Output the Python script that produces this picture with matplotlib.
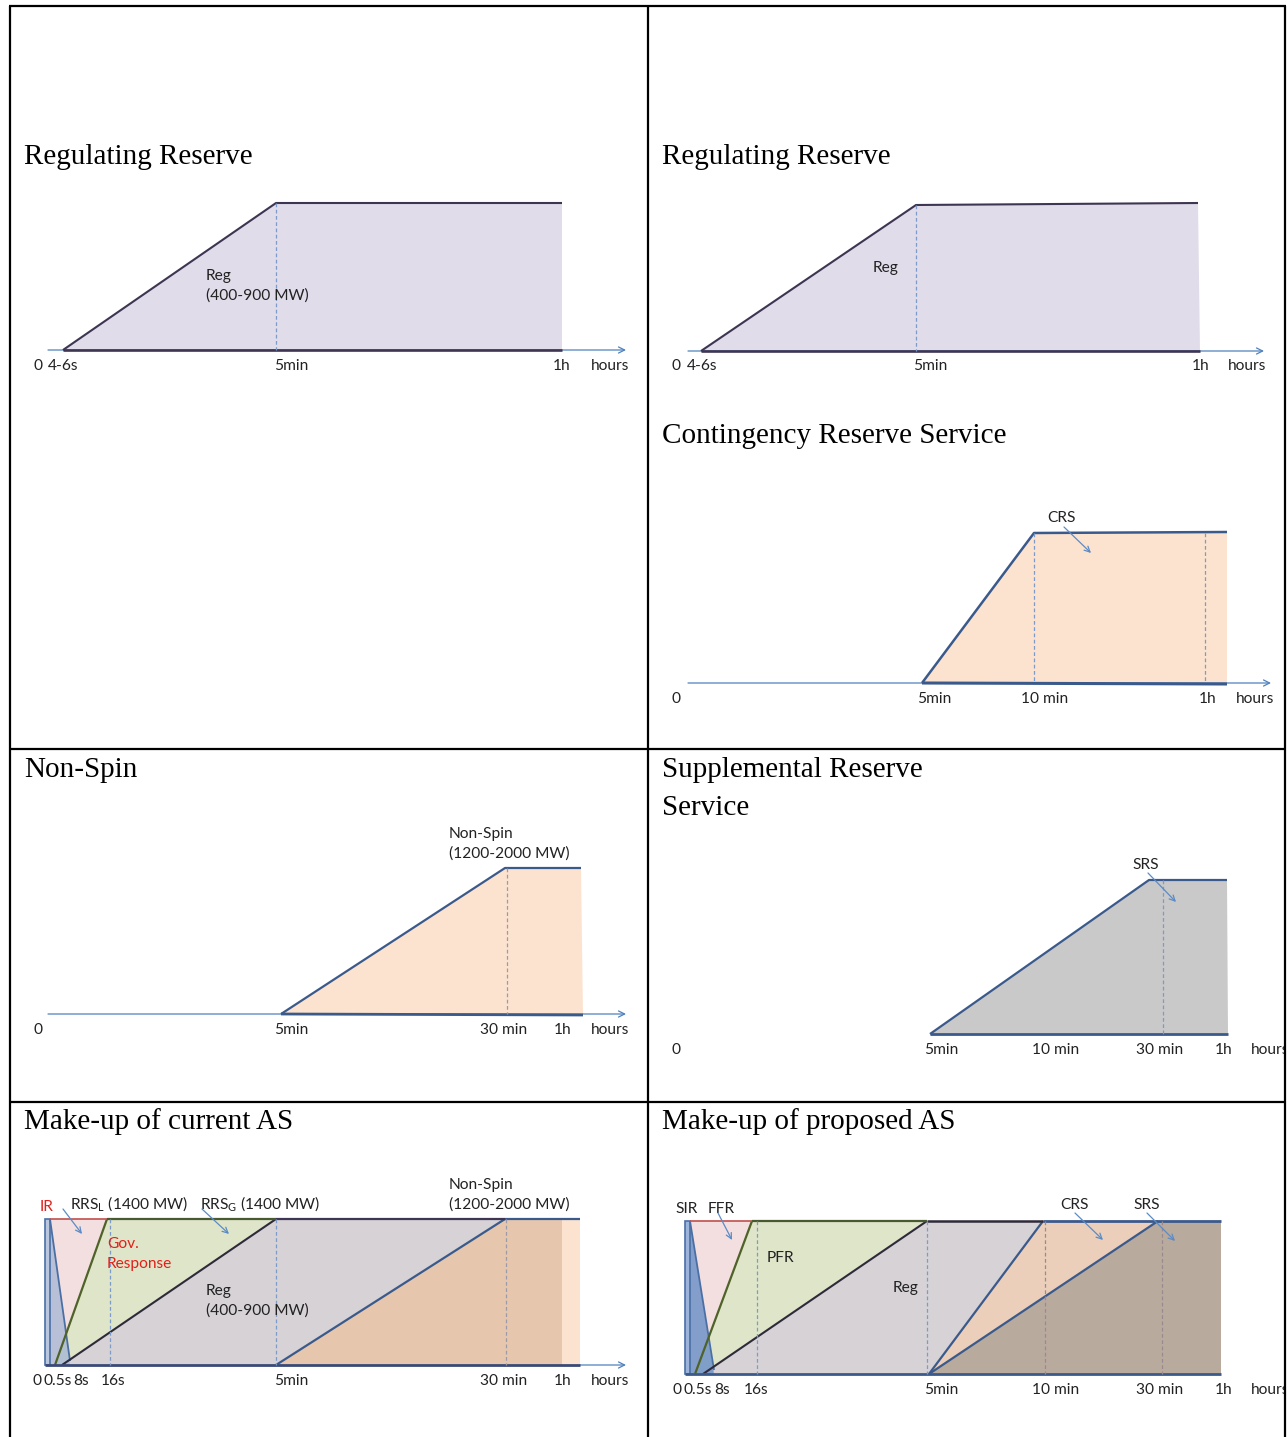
import matplotlib
matplotlib.use("Agg")
import matplotlib.pyplot as plt
from matplotlib.patches import Polygon, Rectangle

# -----------------------------
# Fonts
# -----------------------------
plt.rcParams['mathtext.fontset'] = 'custom'
plt.rcParams['mathtext.rm'] = 'Lato'
SANS = ['Lato', 'DejaVu Sans']
SERIF = ['Liberation Serif', 'DejaVu Serif']
TICK_FS = 11.2
TITLE_FS = 21
TXT_DY = 2

# -----------------------------
# Data (pixel positions read off the reference schematic)
# -----------------------------
# Regulating Reserve, left
reg1_labels = ["0", "4-6s", "5min", "1h", "hours"]
reg1_label_x = [38, 63, 291, 562, 610]
reg1_x = [63, 276, 562, 562]
reg1_y = [350, 203, 203, 350]

# Regulating Reserve, right
reg2_labels = ["0", "4-6s", "5min", "1h", "hours"]
reg2_label_x = [676, 702, 930, 1201, 1247]
reg2_x = [701, 916, 1198, 1200]
reg2_y = [351, 205, 203, 351]

# Contingency Reserve Service
crs_labels = ["0", "5min", "10 min", "1h", "hours"]
crs_label_x = [676, 934, 1045, 1208, 1255]
crs_x = [922, 1034, 1227, 1227]
crs_y = [683, 533, 532, 684]
crs_dash_x = [1034, 1205]

# Non-Spin
ns_labels = ["0", "5min", "30 min", "1h", "hours"]
ns_label_x = [38, 291, 504, 563, 610]
ns_x = [281, 505, 581, 583]
ns_y = [1014, 868, 868, 1015]
ns_dash_x = [507]

# Supplemental Reserve Service
srs_labels = ["0", "5min", "10 min", "30 min", "1h"]
srs_label_x = [676, 941, 1056, 1160, 1224]
srs_x = [930, 1149, 1227, 1228]
srs_y = [1034, 880, 880, 1034]
srs_dash_x = [1163]

# Make-up of current AS
cur_labels = ["0", "0.5s", "8s", "16s", "5min", "30 min", "1h", "hours"]
cur_label_x = [37, 58, 81, 113, 291, 504, 563, 610]
cur_top, cur_base = 1219, 1365
cur_ir_x = [45, 50, 70]
cur_rrsl_x = [50, 107, 55]
cur_rrsg_x = [55, 107, 276, 62]
cur_reg_x = [62, 276, 505, 276]
cur_ns_x = [276, 505, 562, 580]
cur_dash_x = [110, 276, 506]

# Make-up of proposed AS
pro_labels = ["0", "0.5s", "8s", "16s", "5min", "10 min", "30 min", "1h"]
pro_label_x = [677, 698, 722, 756, 941, 1056, 1160, 1224]
pro_top, pro_base = 1221, 1374
pro_sir_x = [685, 690, 714]
pro_ffr_x = [690, 752, 695]
pro_pfr_x = [695, 752, 927, 703]
pro_reg_x = [703, 927, 1043, 929]
pro_crs_x = [929, 1043, 1158]
pro_srs_x = [929, 1158, 1221]
pro_dash_x = [757, 927, 1045, 1162]

# -----------------------------
# Colours
# -----------------------------
AXIS_C = '#4f81bd'
DARK_BLUE = '#3b5a8c'
DARK_PURPLE = '#3e3552'
OLIVE = '#4f6228'
RED_LINE = '#c0504d'
LAVENDER = '#e1dcea'
PEACH = '#fce3cf'
GREY = '#c9c9c9'
PINK = '#f3dfdf'
GREEN = '#dfe5c9'
REG_GREY = '#d6d2d6'
BROWN = '#e6c7ad'
CRS_C = '#ebcfba'
SRS_C = '#b9aa9e'
BLUE_FILL = '#9fb3d6'

# -----------------------------
# Canvas
# -----------------------------
W, H = 1288, 1437
fig = plt.figure(figsize=(W / 100, H / 100), dpi=100)
ax = fig.add_axes([0, 0, 1, 1])
ax.set_xlim(0, W)
ax.set_ylim(H, 0)
ax.axis('off')


def poly(xs, ys, face, alpha=1.0, z=2):
    ax.add_patch(Polygon(list(zip(xs, ys)), closed=True, facecolor=face,
                         edgecolor='none', alpha=alpha, zorder=z))


def line(xs, ys, color, lw=1.4, ls='-', z=4):
    ax.plot(xs, ys, color=color, lw=lw, ls=ls, zorder=z, solid_capstyle='butt')


def axis_arrow(x0, x1, y):
    ax.annotate("", xy=(x1, y), xytext=(x0, y),
                arrowprops=dict(arrowstyle='->', color=AXIS_C, lw=0.9,
                                mutation_scale=11, shrinkA=0, shrinkB=0),
                zorder=3)


def tick_labels(labels, xs, y):
    for lab, x in zip(labels, xs):
        ax.text(x, y + TXT_DY, lab, ha='center', va='center', fontsize=TICK_FS,
                family=SANS, color='#222222', zorder=6)


def label(x, y, s, color='#222222', ha='left'):
    ax.text(x, y + TXT_DY, s, ha=ha, va='center', fontsize=TICK_FS, family=SANS,
            color=color, zorder=6)


def pointer(x0, y0, x1, y1):
    ax.annotate("", xy=(x1, y1), xytext=(x0, y0),
                arrowprops=dict(arrowstyle='->', color='#5b8bc6', lw=0.9,
                                mutation_scale=10, shrinkA=0, shrinkB=0),
                zorder=7)


def dash(x, y0, y1, color='#7d9bc8'):
    line([x, x], [y0, y1], color, lw=0.9, ls=(0, (3, 2)), z=5)


def title(x, y, s):
    ax.text(x, y + 2, s, ha='left', va='center', fontsize=TITLE_FS, family=SERIF,
            color='black', zorder=6)


def ramp_block(xs, ys, face, edge, lw=1.5):
    poly(xs, ys, face)
    line(xs[:3], ys[:3], edge, lw=lw)
    line([xs[0], xs[3]], [ys[0], ys[3]], edge, lw=lw + 0.4)


# -----------------------------
# Table grid
# -----------------------------
for y in [6, 749, 1102]:
    line([9, 1286], [y, y], 'black', lw=1.6, z=10)
for x in [10, 648, 1285.5]:
    line([x, x], [6, H], 'black', lw=1.6, z=10)
# content in the right column is cut at the table border
ax.add_patch(Rectangle((1286.5, 0), 10, H, facecolor='white', edgecolor='none', zorder=9))

# -----------------------------
# Titles
# -----------------------------
title(24, 155, "Regulating Reserve")
title(662, 155, "Regulating Reserve")
title(662, 434, "Contingency Reserve Service")
title(24, 768, "Non-Spin")
title(662, 768, "Supplemental Reserve")
title(662, 806, "Service")
title(24, 1120, "Make-up of current AS")
title(662, 1120, "Make-up of proposed AS")

# -----------------------------
# Regulating Reserve panels
# -----------------------------
axis_arrow(48, 626, reg1_y[0])
ramp_block(reg1_x, reg1_y, LAVENDER, DARK_PURPLE)
dash(reg1_x[1], reg1_y[1], reg1_y[0])
label(206, 274, "Reg")
label(206, 294, "(400-900 MW)")
tick_labels(reg1_labels, reg1_label_x, 364)

axis_arrow(688, 1264, reg2_y[0])
ramp_block(reg2_x, reg2_y, LAVENDER, DARK_PURPLE)
dash(reg2_x[1], reg2_y[1], reg2_y[0])
label(873, 266, "Reg")
tick_labels(reg2_labels, reg2_label_x, 364)

# -----------------------------
# CRS panel
# -----------------------------
axis_arrow(688, 1271, crs_y[0])
ramp_block(crs_x, crs_y, PEACH, DARK_BLUE, lw=1.8)
for x in crs_dash_x:
    dash(x, crs_y[1], crs_y[0])
label(1062, 516, "CRS", ha='center')
pointer(1064, 527, 1091, 553)
tick_labels(crs_labels, crs_label_x, 697)

# -----------------------------
# Non-Spin panel
# -----------------------------
axis_arrow(48, 626, ns_y[0])
ramp_block(ns_x, ns_y, PEACH, DARK_BLUE, lw=1.6)
for x in ns_dash_x:
    dash(x, ns_y[1], ns_y[0], color='#9a9aa8')
label(449, 832, "Non-Spin")
label(449, 852, "(1200-2000 MW)")
tick_labels(ns_labels, ns_label_x, 1028)

# -----------------------------
# SRS panel
# -----------------------------
axis_arrow(688, 1292, srs_y[0])
ramp_block(srs_x, srs_y, GREY, DARK_BLUE, lw=1.6)
for x in srs_dash_x:
    dash(x, srs_y[1], srs_y[0])
label(1146, 863, "SRS", ha='center')
pointer(1148, 873, 1176, 902)
tick_labels(srs_labels, srs_label_x, 1048)
label(1251, 1048, "hours")

# -----------------------------
# Make-up of current AS
# -----------------------------
t, b = cur_top, cur_base
axis_arrow(580, 626, b)
poly([cur_rrsl_x[0], cur_rrsl_x[1], cur_rrsl_x[2], cur_rrsl_x[0]], [t, t, b, b], PINK)
poly(cur_rrsg_x, [b, t, t, b], GREEN)
poly(cur_reg_x, [b, t, t, b], REG_GREY)
poly([cur_ns_x[0], cur_ns_x[1], cur_ns_x[2], cur_ns_x[2]], [b, t, t, b], BROWN)
poly([cur_ns_x[2], cur_ns_x[3], cur_ns_x[3], cur_ns_x[2]], [t, t, b, b], PEACH)
poly([cur_ir_x[1], cur_ir_x[1], cur_ir_x[2]], [t, b, b], BLUE_FILL, alpha=0.7, z=3)
poly([cur_ir_x[0], cur_ir_x[1], cur_ir_x[1], cur_ir_x[0]], [t, t, b, b], '#b9c6de', z=3)
ax.add_patch(Polygon([(cur_ir_x[0], t), (cur_ir_x[1], t), (cur_ir_x[1], b), (cur_ir_x[0], b)],
                     closed=True, fill=False, edgecolor='#4a6fa5', lw=1.2, zorder=4))
for x in cur_dash_x:
    dash(x, t, b, color='#7d9bc8' if x != 506 else '#9a9aa8')
line([cur_ir_x[1], cur_ir_x[2]], [t, b - 4], '#4a6fa5', lw=1.3)
line([cur_rrsl_x[2], cur_rrsl_x[1]], [b, t], OLIVE, lw=1.6)
line([cur_reg_x[0], cur_reg_x[1]], [b, t], '#2e2a3a', lw=1.5)
line([cur_ns_x[0], cur_ns_x[1]], [b, t], DARK_BLUE, lw=1.6)
line([cur_ir_x[1], cur_rrsl_x[1]], [t, t], RED_LINE, lw=1.2)
line([cur_rrsl_x[1], cur_rrsg_x[2]], [t, t], '#4a5a30', lw=1.6)
line([cur_reg_x[1], cur_reg_x[2]], [t, t], DARK_PURPLE, lw=1.6)
line([cur_ns_x[1], cur_ns_x[3]], [t, t], DARK_BLUE, lw=1.6)
line([cur_ir_x[0], cur_ns_x[3]], [b, b], '#3a4a78', lw=2.0)
label(40, 1205, "IR", color='#e0201b')
label(70, 1202, r"RRS$_{\mathrm{L}}$ (1400 MW)")
label(200, 1202, r"RRS$_{\mathrm{G}}$ (1400 MW)")
pointer(63, 1209, 82, 1234)
pointer(202, 1209, 229, 1234)
label(107, 1242, "Gov.", color='#e0201b')
label(107, 1262, "Response", color='#e0201b')
label(206, 1289, "Reg")
label(206, 1309, "(400-900 MW)")
label(449, 1183, "Non-Spin")
label(449, 1203, "(1200-2000 MW)")
tick_labels(cur_labels, cur_label_x, 1379)

# -----------------------------
# Make-up of proposed AS
# -----------------------------
t, b = pro_top, pro_base
axis_arrow(1221, 1292, b)
poly([pro_ffr_x[0], pro_ffr_x[1], pro_ffr_x[2], pro_ffr_x[0]], [t, t, b, b], PINK)
poly(pro_pfr_x, [b, t, t, b], GREEN)
poly(pro_reg_x, [b, t, t, b], REG_GREY)
poly(pro_crs_x, [b, t, t], CRS_C)
poly([pro_srs_x[0], pro_srs_x[1], pro_srs_x[2], pro_srs_x[2]], [b, t, t, b], SRS_C)
poly([pro_sir_x[1], pro_sir_x[1], pro_sir_x[2]], [t, b, b], '#6f93c8', alpha=0.85, z=3)
poly([pro_sir_x[0], pro_sir_x[1], pro_sir_x[1], pro_sir_x[0]], [t, t, b, b], '#9db4da', z=3)
ax.add_patch(Polygon([(pro_sir_x[0], t), (pro_sir_x[1], t), (pro_sir_x[1], b), (pro_sir_x[0], b)],
                     closed=True, fill=False, edgecolor='#4a6fa5', lw=1.2, zorder=4))
for x in pro_dash_x:
    dash(x, t, b, color='#7d9bc8' if x < 1000 else '#9a8a90')
line([pro_sir_x[1], pro_sir_x[2]], [t, b - 4], '#4a6fa5', lw=1.3)
line([pro_ffr_x[2], pro_ffr_x[1]], [b, t], OLIVE, lw=1.6)
line([pro_pfr_x[3], pro_pfr_x[2]], [b, t], '#2e2a3a', lw=1.5)
line([pro_crs_x[0], pro_crs_x[1]], [b, t], DARK_BLUE, lw=1.6)
line([pro_srs_x[0], pro_srs_x[1]], [b, t], DARK_BLUE, lw=1.6)
line([pro_sir_x[1], pro_ffr_x[1]], [t, t], RED_LINE, lw=1.2)
line([pro_ffr_x[1], pro_pfr_x[2]], [t, t], '#4a5a30', lw=1.6)
line([pro_reg_x[1], pro_reg_x[2]], [t, t], '#2e2a3a', lw=1.8)
line([pro_crs_x[1], pro_srs_x[2]], [t, t], DARK_BLUE, lw=2.0)
line([pro_sir_x[0], pro_srs_x[2]], [b, b], DARK_BLUE, lw=2.0)
label(675, 1207, "SIR")
label(708, 1207, "FFR")
pointer(718, 1213, 732, 1240)
label(767, 1256, "PFR")
label(893, 1286, "Reg")
label(1060, 1203, "CRS")
label(1133, 1203, "SRS")
pointer(1075, 1213, 1103, 1240)
pointer(1147, 1213, 1175, 1241)
tick_labels(pro_labels, pro_label_x, 1388)
label(1251, 1388, "hours")

fig.savefig("out.png", dpi=100, facecolor='white')
